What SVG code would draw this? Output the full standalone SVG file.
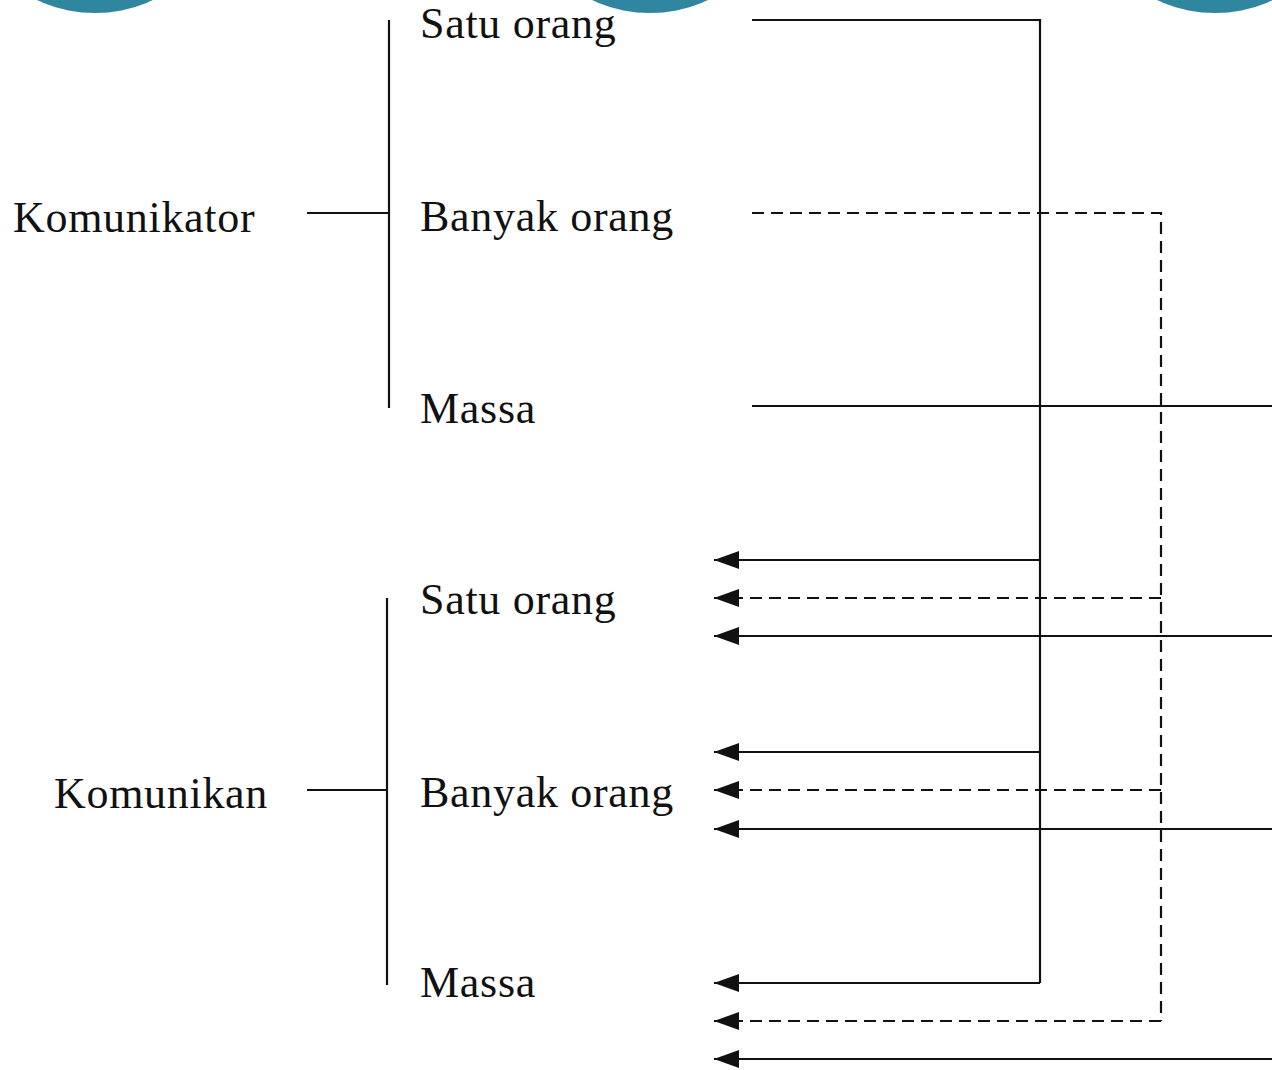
<svg xmlns="http://www.w3.org/2000/svg" width="1272" height="1070" viewBox="0 0 1272 1070">
<style>
.t{font-family:"Liberation Serif","Times New Roman",serif;font-size:44px;letter-spacing:0.7px;fill:#111}
.s{stroke:#111;stroke-width:2.2;fill:none}
.d{stroke:#111;stroke-width:2.2;fill:none;stroke-dasharray:12 7}
.c{fill:#2f869e}
</style>
<defs>
<marker id="ah" markerUnits="userSpaceOnUse" markerWidth="27" markerHeight="20" refX="26" refY="10" orient="auto">
<path d="M26,10 L1,1 L1,19 Z" fill="#111"/>
</marker>
</defs>
<rect width="1272" height="1070" fill="#fff"/>
<g id="circles">
<circle class="c" cx="95" cy="-123" r="136"/>
<circle class="c" cx="650" cy="-123" r="136"/>
<circle class="c" cx="1215" cy="-123" r="136"/>
</g>
<g id="komunikator"><text class="t" x="13" y="232">Komunikator</text></g>
<g id="komunikator-satu"><text class="t" x="420" y="38">Satu orang</text></g>
<g id="komunikator-banyak"><text class="t" x="420" y="231">Banyak orang</text></g>
<g id="komunikator-massa"><text class="t" x="420" y="423">Massa</text></g>
<g id="komunikan"><text class="t" x="54" y="808">Komunikan</text></g>
<g id="komunikan-satu"><text class="t" x="420" y="614">Satu orang</text></g>
<g id="komunikan-banyak"><text class="t" x="420" y="807">Banyak orang</text></g>
<g id="komunikan-massa"><text class="t" x="420" y="997">Massa</text></g>
<g id="connectors">
<path class="s" d="M307,213 H389 M389,20 V408"/>
<path class="s" d="M307,790 H387 M387,598 V985"/>
<path class="s" d="M752,20 H1040 V983"/>
<path class="s" d="M1040,560 H714" marker-end="url(#ah)"/>
<path class="s" d="M1040,752 H714" marker-end="url(#ah)"/>
<path class="s" d="M1040,983 H714" marker-end="url(#ah)"/>
<path class="d" d="M752,213 H1161 V1021"/>
<path class="d" d="M1161,598 H714" marker-end="url(#ah)"/>
<path class="d" d="M1161,790 H714" marker-end="url(#ah)"/>
<path class="d" d="M1161,1021 H714" marker-end="url(#ah)"/>
<path class="s" d="M752,406 H1272"/>
<path class="s" d="M1272,636 H714" marker-end="url(#ah)"/>
<path class="s" d="M1272,829 H714" marker-end="url(#ah)"/>
<path class="s" d="M1272,1059 H714" marker-end="url(#ah)"/>
</g>
</svg>
